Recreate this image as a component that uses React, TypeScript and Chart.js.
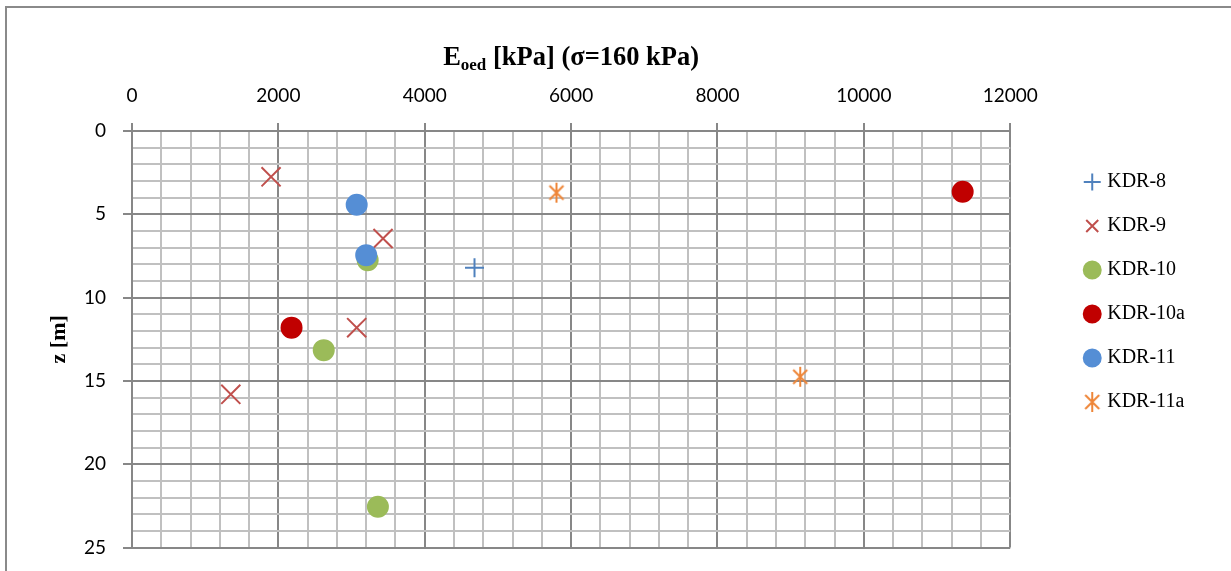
import React, { useEffect, useRef } from 'react';
import { Chart, registerables } from 'chart.js';

Chart.register(...registerables);

// ---- data ----
const seriesNames = ['KDR-8', 'KDR-9', 'KDR-10', 'KDR-10a', 'KDR-11', 'KDR-11a'];
const seriesColors = ['#4F81BD', '#C0504D', '#9BBB59', '#C00000', '#558ED5', '#EE8537'];

const kdr8E = [4680];
const kdr8Z = [8.2];
const kdr9E = [1900, 3430, 3070, 1350];
const kdr9Z = [2.75, 6.45, 11.8, 15.8];
const kdr10E = [3220, 2620, 3360];
const kdr10Z = [7.75, 13.15, 22.55];
const kdr10aE = [2180, 11350];
const kdr10aZ = [11.8, 3.65];
const kdr11E = [3070, 3200];
const kdr11Z = [4.42, 7.45];
const kdr11aE = [5800, 9130];
const kdr11aZ = [3.7, 14.75];

const xTickLabels = [0, 2000, 4000, 6000, 8000, 10000, 12000];
const yTickLabels = [0, 5, 10, 15, 20, 25];

const MAJOR = '#878787';
const MINOR = '#c0c0c0';

function pts(xs: number[], zs: number[]) {
  return xs.map((x, i) => ({ x, y: zs[i] }));
}

function makeAsterisk(color: string) {
  const c = document.createElement('canvas');
  c.width = 18;
  c.height = 22;
  const g = c.getContext('2d')!;
  g.strokeStyle = color;
  g.lineWidth = 2;
  g.beginPath();
  g.moveTo(9, 1);
  g.lineTo(9, 21);
  g.moveTo(2, 4);
  g.lineTo(16, 18);
  g.moveTo(16, 4);
  g.lineTo(2, 18);
  g.stroke();
  return c;
}

const titlePlugin = {
  id: 'eoedTitle',
  afterDraw(chart: any) {
    const ctx = chart.ctx;
    const area = chart.chartArea;
    const cx = (area.left + area.right) / 2;
    const base = chart.scales.x.top + 34;
    const mainFont = 'bold 26.5px "Liberation Serif", "Times New Roman", serif';
    const subFont = 'bold 17px "Liberation Serif", "Times New Roman", serif';
    const p1 = 'E';
    const p2 = 'oed';
    const p3 = ' [kPa] (σ=160 kPa)';
    ctx.save();
    ctx.fillStyle = '#000';
    ctx.textBaseline = 'alphabetic';
    ctx.textAlign = 'left';
    ctx.font = mainFont;
    const w1 = ctx.measureText(p1).width;
    const w3 = ctx.measureText(p3).width;
    ctx.font = subFont;
    const w2 = ctx.measureText(p2).width;
    let x = cx - (w1 + w2 + w3) / 2;
    ctx.font = mainFont;
    ctx.fillText(p1, x, base);
    x += w1;
    ctx.font = subFont;
    ctx.fillText(p2, x, base + 5);
    x += w2;
    ctx.font = mainFont;
    ctx.fillText(p3, x, base);
    ctx.restore();
  },
};

export default function App() {
  const ref = useRef<HTMLCanvasElement>(null);

  useEffect(() => {
    if (!ref.current) return;
    const star = makeAsterisk(seriesColors[5]);
    const common = { borderWidth: 2 };
    const datasets: any[] = [
      { data: pts(kdr8E, kdr8Z), pointStyle: 'cross', pointRadius: 9.5 },
      { data: pts(kdr9E, kdr9Z), pointStyle: 'crossRot', pointRadius: 13.5 },
      { data: pts(kdr10E, kdr10Z), pointStyle: 'circle', pointRadius: 10 },
      { data: pts(kdr10aE, kdr10aZ), pointStyle: 'circle', pointRadius: 10 },
      { data: pts(kdr11E, kdr11Z), pointStyle: 'circle', pointRadius: 10 },
      { data: pts(kdr11aE, kdr11aZ), pointStyle: star, pointRadius: 10 },
    ].map((d, i) => ({
      ...common,
      ...d,
      label: seriesNames[i],
      borderColor: seriesColors[i],
      backgroundColor: seriesColors[i],
      pointHoverRadius: d.pointRadius,
      order: seriesNames.length - i,
    }));

    const chart = new Chart(ref.current, {
      type: 'scatter',
      data: { datasets },
      plugins: [titlePlugin],
      options: {
        animation: false,
        responsive: true,
        maintainAspectRatio: false,
        layout: { padding: { top: 31, right: 36, bottom: 23, left: 0 } },
        plugins: {
          title: { display: false },
          tooltip: { enabled: false },
          legend: {
            position: 'right',
            labels: {
              usePointStyle: true,
              boxWidth: 10,
              boxHeight: 12,
              padding: 24,
              color: '#000',
              font: { family: '"Liberation Serif", "Times New Roman", serif', size: 20 },
              sort: (a: any, b: any) => a.datasetIndex - b.datasetIndex,
            },
          },
        },
        scales: {
          x: {
            type: 'linear',
            position: 'top',
            min: 0,
            max: 12000,
            afterFit: (s: any) => {
              s.height = 100;
            },
            ticks: {
              stepSize: 400,
              autoSkip: false,
              maxRotation: 0,
              padding: 16,
              color: '#000',
              font: { family: 'Lato, "Open Sans", sans-serif', size: 19 },
              callback: (v: any) => (xTickLabels.includes(Number(v)) ? String(v) : ''),
            },
            grid: {
              lineWidth: 2,
              tickLength: 8,
              color: (c: any) => (c.tick && xTickLabels.includes(c.tick.value) ? MAJOR : MINOR),
              tickColor: (c: any) =>
                c.tick && xTickLabels.includes(c.tick.value) ? MAJOR : 'rgba(0,0,0,0)',
            },
            border: { color: MAJOR, width: 2 },
          },
          y: {
            type: 'linear',
            position: 'left',
            reverse: true,
            min: 0,
            max: 25,
            afterFit: (s: any) => {
              s.width = 132;
            },
            title: {
              display: true,
              text: 'z [m]',
              color: '#000',
              font: { family: '"Liberation Serif", "Times New Roman", serif', size: 22, weight: 'bold' },
              padding: { top: 46, bottom: 0 },
            },
            ticks: {
              stepSize: 1,
              autoSkip: false,
              padding: 17,
              color: '#000',
              font: { family: 'Lato, "Open Sans", sans-serif', size: 19 },
              callback: (v: any) => (yTickLabels.includes(Number(v)) ? String(v) : ''),
            },
            grid: {
              lineWidth: 2,
              tickLength: 9,
              color: (c: any) => (c.tick && yTickLabels.includes(c.tick.value) ? MAJOR : MINOR),
              tickColor: (c: any) =>
                c.tick && yTickLabels.includes(c.tick.value) ? MAJOR : 'rgba(0,0,0,0)',
            },
            border: { color: MAJOR, width: 2 },
          },
          legendGap: {
            type: 'linear',
            position: 'right',
            display: true,
            afterFit: (s: any) => {
              s.width = 53;
            },
            ticks: { display: false },
            grid: { display: false, drawTicks: false },
            border: { display: false },
          },
        },
      } as any,
    });
    return () => chart.destroy();
  }, []);

  return (
    <div style={{ position: 'fixed', left: 0, top: 0, width: 1231, height: 571, overflow: 'hidden', background: '#fff' }}>
      <div
        style={{
          position: 'absolute',
          left: 5,
          top: 6,
          width: 1260,
          height: 600,
          border: '2px solid #8a8a8a',
          pointerEvents: 'none',
        }}
      />
      <div style={{ position: 'absolute', left: 0, top: 0, width: 1231, height: 576 }}>
        <canvas ref={ref} />
      </div>
    </div>
  );
}
